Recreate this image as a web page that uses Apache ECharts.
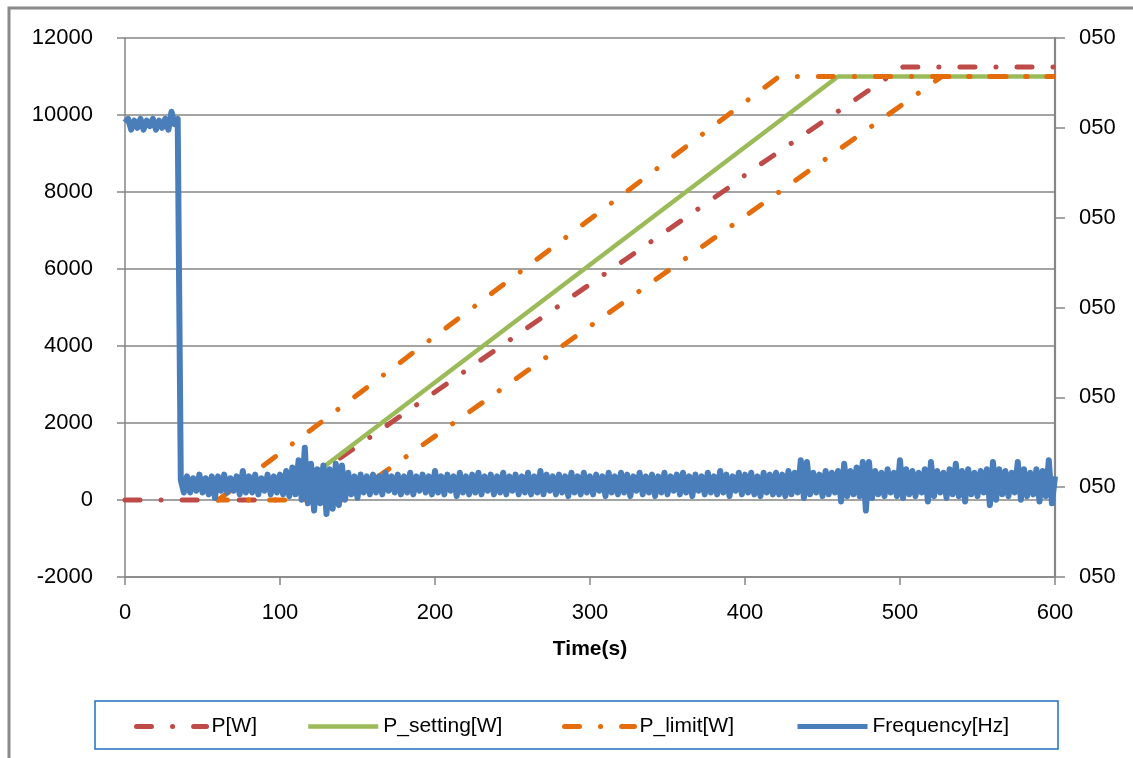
<!DOCTYPE html>
<html>
<head>
<meta charset="utf-8">
<script src="https://cdn.jsdelivr.net/npm/echarts@6/dist/echarts.min.js"></script>
<style>
html,body{margin:0;padding:0;background:#fff;}
#chart{width:1133px;height:758px;}
</style>
</head>
<body>
<div id="chart"></div>
<script>
// ---- Data ----
var xTicks = [0, 100, 200, 300, 400, 500, 600];
var leftTicks = [-2000, 0, 2000, 4000, 6000, 8000, 10000, 12000];
var rightTicks = [49.95, 50.00, 50.05, 50.10, 50.15, 50.20, 50.25];

// P[W] (measured power) breakpoints
var pTime = [0, 100, 137, 389, 402, 502, 600];
var pVal  = [0, 0, 1040, 8100, 8500, 11250, 11250];

// P_setting[W]
var sTime = [120, 460, 600];
var sVal  = [610, 11000, 11000];

// P_limit[W] (upper band forward, lower band back)
var lTime = [60, 422, 600, 527, 142, 60];
var lVal  = [0, 11000, 11000, 11000, 0, 0];

// Frequency[Hz], sampled every 2 s from t = 0
var freqStep = 2;
var freqVals = [
50.203,50.205,50.199,50.204,50.200,50.205,50.199,50.204,50.201,50.205,
50.199,50.204,50.200,50.205,50.199,50.209,50.202,50.205,50.004,49.997,
50.006,49.997,50.005,49.998,50.007,49.997,50.005,49.996,50.006,49.994,
50.006,49.998,50.007,49.997,50.005,49.998,50.006,49.996,50.009,49.997,
50.006,49.997,50.007,49.996,50.005,49.998,50.007,49.996,50.006,49.997,
50.007,49.996,50.009,49.995,50.011,49.996,50.015,49.993,50.022,49.991,
50.013,49.987,50.010,49.991,50.012,49.985,50.010,49.988,50.013,49.990,
50.012,49.993,50.008,49.996,50.006,49.994,50.007,49.997,50.006,49.996,
50.007,49.997,50.006,49.996,50.008,49.998,50.006,49.997,50.007,49.996,
50.006,49.997,50.008,49.996,50.006,49.998,50.007,49.997,50.006,49.996,
50.009,49.997,50.006,49.996,50.007,49.998,50.006,49.995,50.008,49.997,
50.006,49.996,50.007,49.997,50.008,49.996,50.006,49.998,50.007,49.996,
50.006,49.997,50.008,49.996,50.006,49.998,50.007,49.996,50.006,49.997,
50.008,49.996,50.006,49.997,50.009,49.996,50.007,49.998,50.006,49.996,
50.007,49.997,50.006,49.995,50.008,49.997,50.006,49.996,50.008,49.997,
50.006,49.996,50.007,49.998,50.006,49.995,50.008,49.997,50.006,49.996,
50.008,49.997,50.007,49.995,50.006,49.998,50.008,49.996,50.006,49.997,
50.007,49.995,50.006,49.997,50.008,49.996,50.006,49.998,50.007,49.996,
50.008,49.997,50.006,49.995,50.007,49.998,50.006,49.996,50.008,49.997,
50.006,49.996,50.009,49.997,50.007,49.995,50.006,49.998,50.008,49.996,
50.007,49.997,50.008,49.996,50.006,49.995,50.008,49.997,50.007,49.996,
50.008,49.996,50.007,49.995,50.009,49.996,50.008,49.997,50.015,49.994,
50.014,49.996,50.008,49.997,50.007,49.995,50.009,49.996,50.008,49.997,
50.009,49.992,50.013,49.995,50.009,49.996,50.011,49.995,50.014,49.987,
50.014,49.994,50.009,49.996,50.008,49.995,50.010,49.997,50.008,49.995,
50.015,49.994,50.010,49.996,50.009,49.995,50.008,49.997,50.010,49.992,
50.014,49.995,50.009,49.997,50.008,49.994,50.010,49.996,50.013,49.995,
50.009,49.992,50.010,49.996,50.008,49.995,50.009,49.997,50.010,49.990,
50.014,49.993,50.010,49.996,50.009,49.995,50.008,49.997,50.014,49.993,
50.010,49.995,50.008,49.996,50.010,49.992,50.009,49.995,50.015,49.991,50.006
];

var seriesNames = ['P[W]', 'P_setting[W]', 'P_limit[W]', 'Frequency[Hz]'];
var colors = ['#BE4B48', '#9BBB59', '#E46C0A', '#4A7EBB'];

// ---- Build ----
function pairs(ts, vs) { return ts.map(function (t, i) { return [t, vs[i]]; }); }
var freqData = freqVals.map(function (v, i) { return [i * freqStep, v]; });

var FONT = "'Liberation Sans', Arial, sans-serif";
var axisGray = '#868686';
var DASHDOT = [15, 21, 0.1, 21];
var lineStyles = [
  { color: colors[0], width: 5, type: DASHDOT, cap: 'round' },
  { color: colors[1], width: 4.5, type: 'solid' },
  { color: colors[2], width: 5, type: DASHDOT, cap: 'round' },
  { color: colors[3], width: 6, type: 'solid', join: 'round' }
];
var legendLineStyles = [
  lineStyles[0], lineStyles[1], lineStyles[2],
  { color: colors[3], width: 5, type: 'solid' }
];

var chart = echarts.init(document.getElementById('chart'), null, { renderer: 'canvas' });

function legendItem(idx, left) {
  return {
    data: [seriesNames[idx]], left: left, top: 716, itemWidth: 70, itemHeight: 14,
    padding: 0, selectedMode: false,
    itemStyle: { opacity: 0 },
    lineStyle: legendLineStyles[idx],
    textStyle: { fontFamily: FONT, fontSize: 21, color: '#000' }
  };
}

var option = {
  animation: false,
  backgroundColor: '#fff',
  color: colors,
  grid: { left: 125, right: 78, top: 38, bottom: 181, containLabel: false },
  graphic: [
    { type: 'rect', shape: { x: 9, y: 8, width: 1300, height: 900 },
      style: { fill: 'none', stroke: '#8a8a8a', lineWidth: 3 }, silent: true, z: -10 },
    { type: 'rect', shape: { x: 95, y: 701, width: 963, height: 48 },
      style: { fill: 'none', stroke: '#1F6FBF', lineWidth: 1.5 }, silent: true }
  ],
  legend: [legendItem(0, 134), legendItem(1, 306), legendItem(2, 562), legendItem(3, 795)],
  xAxis: {
    type: 'value', min: xTicks[0], max: xTicks[xTicks.length - 1], interval: 100,
    name: 'Time(s)', nameLocation: 'middle', nameGap: 62,
    nameTextStyle: { fontFamily: FONT, fontSize: 21, fontWeight: 'bold', color: '#000' },
    axisLine: { show: true, onZero: false, lineStyle: { color: axisGray, width: 1.5 } },
    axisTick: { show: true, inside: false, length: 8, lineStyle: { color: axisGray, width: 1.5 } },
    axisLabel: { margin: 25, fontFamily: FONT, fontSize: 22, color: '#000',
      formatter: function (v) { return String(v); } },
    splitLine: { show: false }
  },
  yAxis: [
    {
      type: 'value', min: leftTicks[0], max: leftTicks[leftTicks.length - 1], interval: 2000,
      position: 'left',
      axisLine: { show: true, onZero: false, lineStyle: { color: axisGray, width: 1.5 } },
      axisTick: { show: true, length: 8, lineStyle: { color: axisGray, width: 1.5 } },
      axisLabel: { margin: 32, fontFamily: FONT, fontSize: 22, color: '#000',
        formatter: function (v) { return String(v); } },
      splitLine: { show: true, lineStyle: { color: axisGray, width: 1.5 } }
    },
    {
      type: 'value', min: rightTicks[0], max: rightTicks[rightTicks.length - 1], interval: 0.05,
      position: 'right',
      axisLine: { show: true, onZero: false, lineStyle: { color: axisGray, width: 2.2 } },
      axisTick: { show: true, length: 10, lineStyle: { color: axisGray, width: 1.5 } },
      axisLabel: {
        margin: 24, fontFamily: FONT, fontSize: 22, color: '#000',
        formatter: function (v) { var s = String(Math.round(v)); while (s.length < 3) s = '0' + s; return s; }
      },
      splitLine: { show: false }
    }
  ],
  series: [
    { name: seriesNames[0], type: 'line', yAxisIndex: 0, data: pairs(pTime, pVal),
      showSymbol: false, symbol: 'none', lineStyle: lineStyles[0], z: 2 },
    { name: seriesNames[1], type: 'line', yAxisIndex: 0, data: pairs(sTime, sVal),
      showSymbol: false, symbol: 'none', lineStyle: lineStyles[1], z: 3 },
    { name: seriesNames[2], type: 'line', yAxisIndex: 0, data: pairs(lTime, lVal),
      showSymbol: false, symbol: 'none', lineStyle: lineStyles[2], z: 4 },
    { name: seriesNames[3], type: 'line', yAxisIndex: 1, data: freqData,
      showSymbol: false, symbol: 'none', sampling: null, lineStyle: lineStyles[3], z: 5 }
  ]
};
chart.setOption(option);
</script>
</body>
</html>
